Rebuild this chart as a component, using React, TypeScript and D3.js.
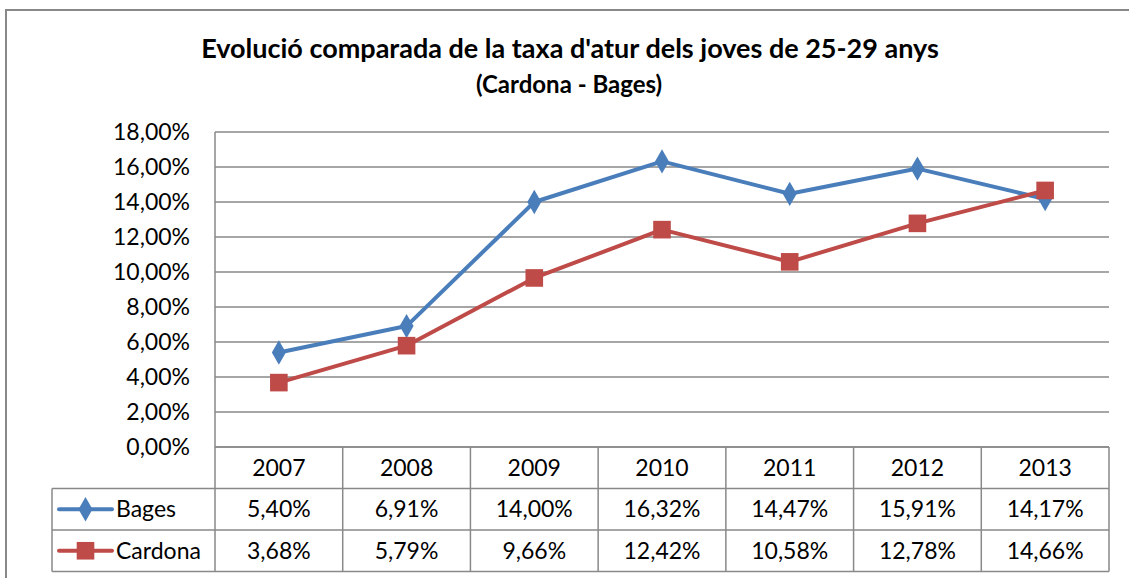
import { useEffect, useRef } from 'react';
import * as d3 from 'd3';

const years = ['2007', '2008', '2009', '2010', '2011', '2012', '2013'];
const bages = [5.4, 6.91, 14.0, 16.32, 14.47, 15.91, 14.17];
const cardona = [3.68, 5.79, 9.66, 12.42, 10.58, 12.78, 14.66];
const yTicks = [0, 2, 4, 6, 8, 10, 12, 14, 16, 18];

const fmt = (v: number) => v.toFixed(2).replace('.', ',') + '%';

const App = () => {
  const svgRef = useRef<SVGSVGElement>(null);

  useEffect(() => {
    const svg = d3.select(svgRef.current);
    svg.selectAll('*').remove();
    const font = 'Lato, "Open Sans", sans-serif';
    const grid = '#898989';
    const fs = 23;

    const left = 215;
    const right = 1109;
    const top = 132;
    const bottom = 447;
    const rowH = 41.5;

    const x = d3.scaleBand().domain(years).range([left, right]);
    const y = d3.scaleLinear().domain([0, 18]).range([bottom, top]);
    const xc = (d: string) => (x(d) as number) + x.bandwidth() / 2;

    // outer chart border
    svg.append('rect')
      .attr('x', 6).attr('y', 10).attr('width', 1140).attr('height', 600)
      .attr('fill', '#fff').attr('stroke', '#888').attr('stroke-width', 2);

    svg.append('text')
      .attr('x', 570).attr('y', 58).attr('text-anchor', 'middle')
      .attr('font-family', font).attr('font-weight', 'bold').attr('font-size', 27)
      .text("Evolució comparada de la taxa d'atur dels joves de 25-29 anys");
    svg.append('text')
      .attr('x', 569).attr('y', 93).attr('text-anchor', 'middle')
      .attr('font-family', font).attr('font-weight', 'bold').attr('font-size', 24)
      .text('(Cardona - Bages)');

    // gridlines
    svg.append('g').selectAll('line').data(yTicks).join('line')
      .attr('x1', left).attr('x2', right)
      .attr('y1', (d) => y(d)).attr('y2', (d) => y(d))
      .attr('stroke', grid).attr('stroke-width', 1.5);
    svg.append('line')
      .attr('x1', left).attr('x2', left).attr('y1', top).attr('y2', bottom)
      .attr('stroke', grid).attr('stroke-width', 1.5);

    svg.append('g').selectAll('text').data(yTicks).join('text')
      .attr('x', 190).attr('y', (d) => y(d) + 8).attr('text-anchor', 'end')
      .attr('font-family', font).attr('font-size', fs)
      .text((d) => fmt(d));

    // data table
    const tbl = svg.append('g');
    const tLeft = 52;
    const rows = [bottom, bottom + rowH, bottom + 2 * rowH, bottom + 3 * rowH];
    tbl.selectAll('line.h').data(rows).join('line')
      .attr('x1', (d, i) => (i === 0 ? left : tLeft)).attr('x2', right)
      .attr('y1', (d) => d).attr('y2', (d) => d)
      .attr('stroke', grid).attr('stroke-width', 1.5);
    const vx = [...years.map((d) => x(d) as number), right];
    tbl.selectAll('line.v').data(vx).join('line')
      .attr('x1', (d) => d).attr('x2', (d) => d)
      .attr('y1', bottom).attr('y2', rows[3])
      .attr('stroke', grid).attr('stroke-width', 1.5);
    tbl.append('line')
      .attr('x1', tLeft).attr('x2', tLeft).attr('y1', rows[1]).attr('y2', rows[3])
      .attr('stroke', grid).attr('stroke-width', 1.5);

    tbl.selectAll('text.yr').data(years).join('text')
      .attr('x', xc).attr('y', bottom + rowH / 2 + 8).attr('text-anchor', 'middle')
      .attr('font-family', font).attr('font-size', fs).text((d) => d);

    const series = [
      { name: 'Bages', values: bages, color: '#4A7EBB', shape: 'diamond' },
      { name: 'Cardona', values: cardona, color: '#BE4B48', shape: 'square' },
    ];

    const line = d3.line<number>()
      .x((d, i) => xc(years[i]))
      .y((d) => y(d));

    series.forEach((s, si) => {
      const ry = rows[si + 1] + rowH / 2;
      tbl.selectAll(`text.v${si}`).data(s.values).join('text')
        .attr('x', (d, i) => xc(years[i])).attr('y', ry + 8).attr('text-anchor', 'middle')
        .attr('font-family', font).attr('font-size', fs).text((d) => fmt(d));
      tbl.append('text')
        .attr('x', 116).attr('y', ry + 8)
        .attr('font-family', font).attr('font-size', fs).text(s.name);
      tbl.append('line')
        .attr('x1', 59).attr('x2', 112).attr('y1', ry).attr('y2', ry)
        .attr('stroke', s.color).attr('stroke-width', 4).attr('stroke-linecap', 'round');
      const sym = s.shape === 'diamond'
        ? d3.symbol(d3.symbolDiamond, 170)
        : d3.symbol(d3.symbolSquare, 310);
      tbl.append('path').attr('d', sym()).attr('transform', `translate(85.5,${ry})`)
        .attr('fill', s.color);

      svg.append('path').datum(s.values).attr('d', line)
        .attr('fill', 'none').attr('stroke', s.color).attr('stroke-width', 4)
        .attr('stroke-linejoin', 'round');
      svg.append('g').selectAll('path').data(s.values).join('path')
        .attr('d', sym())
        .attr('transform', (d, i) => `translate(${xc(years[i])},${y(d)})`)
        .attr('fill', s.color);
    });
  }, []);

  return (
    <svg ref={svgRef} width={1129} height={578}
      style={{ position: 'absolute', left: 0, top: 0 }} />
  );
};

export default App;
